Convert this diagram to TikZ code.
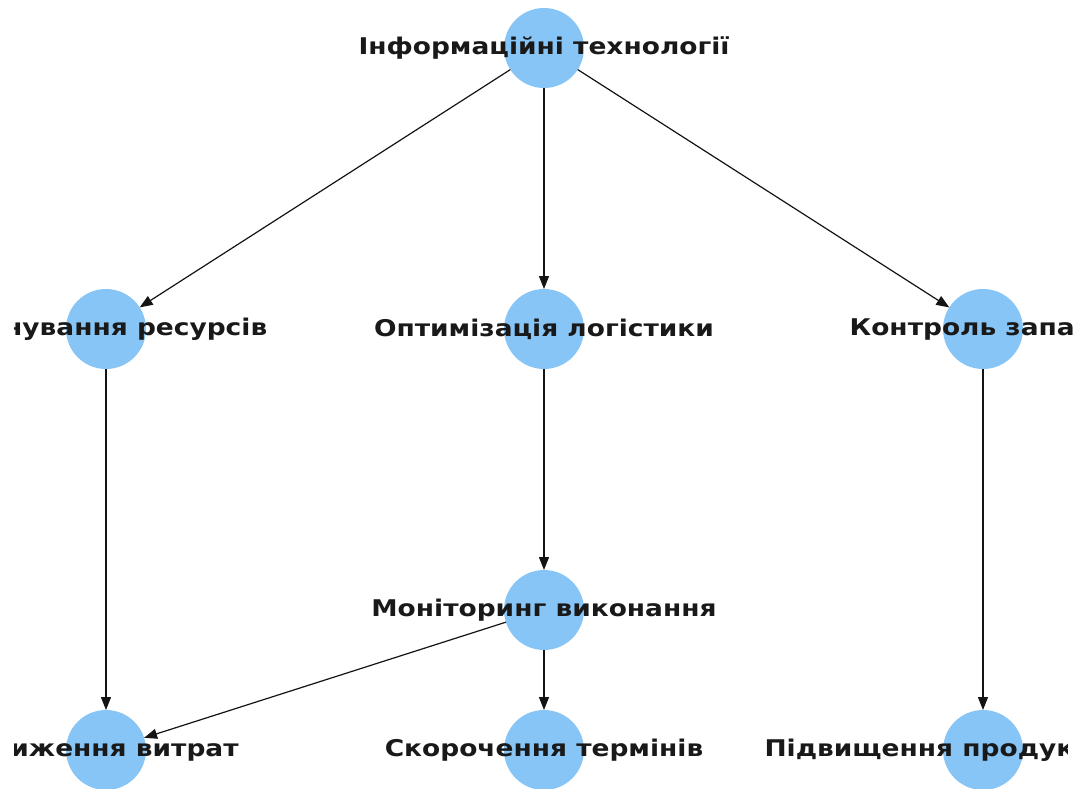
\documentclass[tikz,border=0pt]{standalone}
\usepackage{fontspec}
\usepackage{graphicx}
\setmainfont{DejaVu Sans}
\usetikzlibrary{arrows.meta}
\definecolor{nodeblue}{RGB}{135,197,247}
\definecolor{edgegray}{RGB}{20,20,20}
\newcommand{\wide}[1]{\scalebox{1.15}[1]{#1}}
\tikzset{
  dot/.style={circle, fill=nodeblue, draw=none, minimum size=80pt, inner sep=0pt, outer sep=0pt},
  lbl/.style={font=\fontsize{23}{27}\selectfont\bfseries, text=black!90, inner sep=0pt},
  edge/.style={draw=edgegray, line width=1.2pt, -{Triangle[length=13pt,width=10pt]}}
}
\begin{document}
\begin{tikzpicture}[x=1pt,y=-1pt]
\useasboundingbox (0,0) rectangle (1090,789);
\clip (0,0) rectangle (1090,789);
\fill[white] (0,0) rectangle (1090,789);
% circles
\node[dot] (it) at (544,48) {};
\node[dot] (pl) at (106,329) {};
\node[dot] (ol) at (544,329) {};
\node[dot] (kz) at (983,329) {};
\node[dot] (mv) at (544,610) {};
\node[dot] (zv) at (106,750) {};
\node[dot] (st) at (544,750) {};
\node[dot] (pp) at (983,750) {};
% edges
\draw[edge] (it) -- (pl);
\draw[edge] (it) -- (ol);
\draw[edge] (it) -- (kz);
\draw[edge] (pl) -- (zv);
\draw[edge] (ol) -- (mv);
\draw[edge] (kz) -- (pp);
\draw[edge] (mv) -- (zv);
\draw[edge] (mv) -- (st);
% labels, clipped to the plotting area
\begin{scope}
\clip (14.5,0) rectangle (1074,789);
\node[lbl] (tit) at (it) {\wide{Інформаційні технології}};
\node[lbl] (tpl) at (pl) {\wide{Планування ресурсів}};
\node[lbl] (tol) at (ol) {\wide{Оптимізація логістики}};
\node[lbl] (tkz) at (kz) {\wide{Контроль запасів}};
\node[lbl] (tmv) at (mv) {\wide{Моніторинг виконання}};
\node[lbl] (tzv) at (zv) {\wide{Зниження витрат}};
\node[lbl] (tst) at (st) {\wide{Скорочення термінів}};
\end{scope}
\begin{scope}
\clip (14.5,0) rectangle (1067,789);
\node[lbl] (tpp) at (pp) {\wide{Підвищення продуктивності}};
\end{scope}
\end{tikzpicture}
\end{document}
